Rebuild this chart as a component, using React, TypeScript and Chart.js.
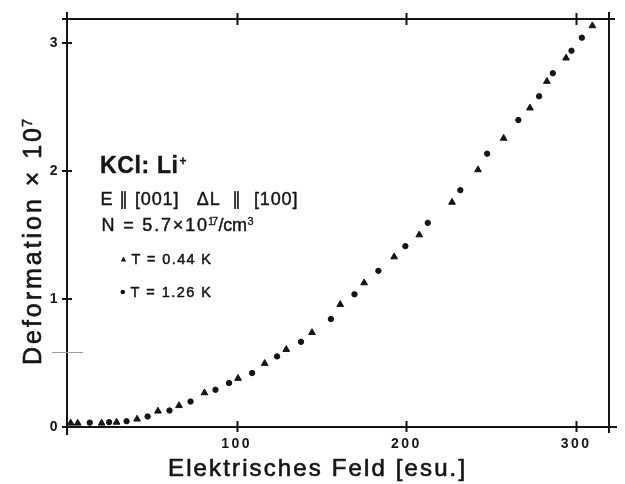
import React, { useEffect, useRef } from 'react';
import { Chart, registerables } from 'chart.js';

Chart.register(...registerables);

// ---- data ----
const xTickValues = [100, 200, 300];
const xTickLabels = ['100', '200', '300'];
const yTickValues = [0, 1, 2, 3];
const yTickLabels = ['0', '1', '2', '3'];

// T = 0.44 K (triangles)
const fieldLow = [2.2, 6.3, 20.4, 29.2, 41.3, 53.6, 66.0, 81.0, 100.8, 116.5, 129.2, 144.4, 161.0, 175.1, 192.8, 207.6, 226.9, 242.2, 257.3, 272.8, 282.8, 294.1, 309.6];
const deformLow = [0.03, 0.03, 0.03, 0.037, 0.062, 0.124, 0.167, 0.267, 0.38, 0.497, 0.606, 0.738, 0.958, 1.127, 1.33, 1.502, 1.757, 2.011, 2.257, 2.494, 2.702, 2.885, 3.137];

// T = 1.26 K (circles)
const fieldHigh = [13.4, 24.8, 35.1, 47.5, 60.4, 72.8, 87.5, 95.5, 109.1, 123.8, 137.9, 155.5, 169.4, 183.5, 199.4, 212.6, 231.8, 247.6, 266.0, 278.2, 286.3, 297.3, 303.4];
const deformHigh = [0.034, 0.0375, 0.045, 0.082, 0.129, 0.199, 0.291, 0.344, 0.422, 0.552, 0.666, 0.844, 1.0375, 1.221, 1.414, 1.596, 1.852, 2.137, 2.4, 2.586, 2.766, 2.942, 3.044];

const seriesLabels = ['T = 0.44 K', 'T = 1.26 K'];
const xTitle = 'Elektrisches Feld [esu.]';
const yTitle = 'Deformation × 10';
const yTitleExp = '7';
const sampleTitle = 'KCl: Li';
const sampleCharge = '+';
const orientationText = 'E ∥ [001]   ΔL  ∥  [100]';
const densityParts = ['N = 5.7×10', '17', '/cm', '3'];
const strayMarkValue = 0.583;

const X_MIN = 0;
const X_MAX = 319.4;
const Y_MIN = 0;
const Y_MAX = 3.19;

const INK = '#151515';
const FONT = '"Liberation Sans", Arial, sans-serif';

function fitText(
  ctx: CanvasRenderingContext2D,
  text: string,
  x: number,
  y: number,
  width: number,
  font: string,
  heavy = 0
) {
  ctx.font = font;
  (ctx as any).letterSpacing = '0px';
  const w0 = ctx.measureText(text).width;
  const n = Array.from(text).length;
  const s = n > 1 ? (width - w0) / (n - 1) : 0;
  (ctx as any).letterSpacing = s.toFixed(2) + 'px';
  ctx.fillText(text, x, y);
  if (heavy > 0) {
    ctx.lineWidth = heavy;
    ctx.strokeStyle = INK;
    ctx.lineJoin = 'round';
    ctx.strokeText(text, x, y);
  }
  (ctx as any).letterSpacing = '0px';
}

function triangle(ctx: CanvasRenderingContext2D, cx: number, cy: number, h: number) {
  ctx.beginPath();
  ctx.moveTo(cx, cy - h * 0.6);
  ctx.lineTo(cx + h * 0.55, cy + h * 0.4);
  ctx.lineTo(cx - h * 0.55, cy + h * 0.4);
  ctx.closePath();
  ctx.fill();
}

const decorPlugin = {
  id: 'decor',
  beforeDraw(chart: any) {
    chart.ctx.letterSpacing = '2.5px';
  },
  beforeDatasetsDraw(chart: any) {
    chart.ctx.letterSpacing = '0px';
  },
  afterDraw(chart: any) {
    const { ctx, chartArea: a, scales } = chart;
    const xs = scales.x;
    const ys = scales.y;
    ctx.save();
    (ctx as any).letterSpacing = '0px';
    ctx.strokeStyle = INK;
    ctx.fillStyle = INK;
    ctx.lineWidth = 2;

    // frame with overshooting ends
    ctx.beginPath();
    ctx.moveTo(a.left, a.top - 7); ctx.lineTo(a.left, a.bottom + 8);
    ctx.moveTo(a.right, a.top - 7); ctx.lineTo(a.right, a.bottom + 6);
    ctx.moveTo(a.left - 5, a.top); ctx.lineTo(a.right + 6, a.top);
    ctx.moveTo(a.left - 2, a.bottom); ctx.lineTo(a.right + 8, a.bottom);
    ctx.stroke();

    // crossing tick marks
    ctx.beginPath();
    xTickValues.forEach((v) => {
      const px = Math.round(xs.getPixelForValue(v)) + 0.5;
      ctx.moveTo(px, a.top - 6); ctx.lineTo(px, a.top + 6);
      ctx.moveTo(px, a.bottom - 6); ctx.lineTo(px, a.bottom + 5);
    });
    yTickValues.forEach((v) => {
      const py = Math.round(ys.getPixelForValue(v));
      ctx.moveTo(a.left - 5, py); ctx.lineTo(a.left + 5, py);
    });
    ctx.stroke();

    // faint stray mark on the y axis
    ctx.strokeStyle = '#9a9a9a';
    ctx.lineWidth = 1;
    const sy = Math.round(ys.getPixelForValue(strayMarkValue)) + 0.5;
    ctx.beginPath();
    ctx.moveTo(a.left - 15, sy); ctx.lineTo(a.left + 16, sy);
    ctx.stroke();

    ctx.fillStyle = INK;
    ctx.textAlign = 'left';
    ctx.textBaseline = 'alphabetic';

    // annotation block
    fitText(ctx, sampleTitle, 100, 173, 78, `bold 23px ${FONT}`, 0.4);
    fitText(ctx, sampleCharge, 179.5, 164.5, 6, `bold 12px ${FONT}`, 0.3);
    fitText(ctx, orientationText, 100.5, 205, 197, `18px ${FONT}`, 0.45);
    fitText(ctx, densityParts[0], 101.5, 230.5, 105.5, `18px ${FONT}`, 0.45);
    fitText(ctx, densityParts[1], 208, 225, 10, `11px ${FONT}`, 0.3);
    fitText(ctx, densityParts[2], 218.5, 230.5, 28.5, `18px ${FONT}`, 0.45);
    fitText(ctx, densityParts[3], 247.5, 224.5, 5, `11px ${FONT}`, 0.3);

    // legend
    triangle(ctx, 123.5, 259.5, 5);
    ctx.beginPath();
    ctx.arc(122.8, 292, 2.3, 0, Math.PI * 2);
    ctx.fill();
    fitText(ctx, seriesLabels[0], 131.5, 263.5, 79.5, `14.5px ${FONT}`, 0.5);
    fitText(ctx, seriesLabels[1], 130.5, 296.5, 80.5, `14.5px ${FONT}`, 0.5);

    // axis titles
    fitText(ctx, xTitle, 168, 476, 297, `24px ${FONT}`, 0.65);
    ctx.save();
    ctx.translate(41, 365);
    ctx.rotate(-Math.PI / 2);
    fitText(ctx, yTitle, 0, 0, 237, `25px ${FONT}`, 0.65);
    fitText(ctx, yTitleExp, 238, -9, 8, `15px ${FONT}`, 0.5);
    ctx.restore();

    ctx.restore();
  },
};

export default function App() {
  const canvasRef = useRef<HTMLCanvasElement | null>(null);

  useEffect(() => {
    const canvas = canvasRef.current;
    if (!canvas) return;
    const tickFont = { family: FONT, size: 14, weight: 'bold' as const };
    const chart = new Chart(canvas, {
      type: 'scatter',
      data: {
        datasets: [
          {
            label: seriesLabels[0],
            data: fieldLow.map((v, i) => ({ x: v, y: deformLow[i] })),
            pointStyle: 'triangle',
            pointRadius: 3.9,
            pointBorderWidth: 1,
            backgroundColor: INK,
            borderColor: INK,
          },
          {
            label: seriesLabels[1],
            data: fieldHigh.map((v, i) => ({ x: v, y: deformHigh[i] })),
            pointStyle: 'circle',
            pointRadius: 2.7,
            pointBorderWidth: 1,
            backgroundColor: INK,
            borderColor: INK,
          },
        ],
      },
      options: {
        animation: false,
        responsive: true,
        maintainAspectRatio: false,
        layout: { padding: { top: 19, right: 16, bottom: 0, left: 0 } },
        plugins: {
          legend: { display: false },
          title: { display: false },
          tooltip: { enabled: false },
        },
        scales: {
          x: {
            type: 'linear',
            position: 'bottom',
            min: X_MIN,
            max: X_MAX,
            grid: { display: false, drawTicks: false },
            border: { display: false },
            ticks: {
              font: tickFont,
              color: INK,
              padding: 9,
              maxRotation: 0,
              autoSkip: false,
              callback: (_v: any, i: number) => xTickLabels[i],
            },
            afterBuildTicks: (scale: any) => {
              scale.ticks = xTickValues.map((v) => ({ value: v }));
            },
            afterFit: (scale: any) => {
              scale.height = 57;
            },
          },
          y: {
            type: 'linear',
            min: Y_MIN,
            max: Y_MAX,
            grid: { display: false, drawTicks: false },
            border: { display: false },
            ticks: {
              font: tickFont,
              color: INK,
              padding: 7,
              autoSkip: false,
              callback: (_v: any, i: number) => yTickLabels[i],
            },
            afterBuildTicks: (scale: any) => {
              scale.ticks = yTickValues.map((v) => ({ value: v }));
            },
            afterFit: (scale: any) => {
              scale.width = 67;
            },
          },
        },
      },
      plugins: [decorPlugin],
    });
    return () => chart.destroy();
  }, []);

  return (
    <div style={{ position: 'fixed', left: 0, top: 0, width: 625, height: 484, background: '#ffffff' }}>
      <canvas ref={canvasRef} />
    </div>
  );
}
